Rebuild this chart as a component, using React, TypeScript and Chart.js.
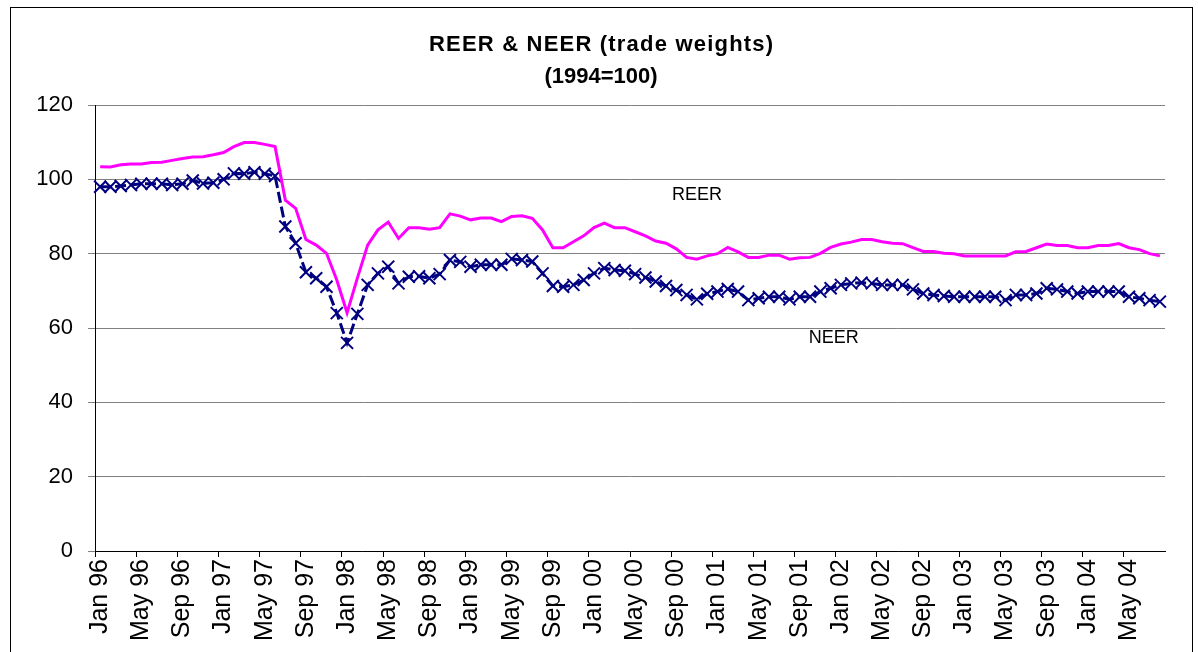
import React, { useEffect, useRef } from "react";
import { Chart, registerables } from "chart.js";

Chart.register(...registerables);

const MONTHS = ["Jan", "Feb", "Mar", "Apr", "May", "Jun", "Jul", "Aug", "Sep", "Oct", "Nov", "Dec"];
const YEARS = ["96", "97", "98", "99", "00", "01", "02", "03", "04"];
const MONTH_COUNT = 104; // Jan 96 .. Aug 04
const LABEL_EVERY = 4;

const REER = [
  103.4, 103.3, 103.9, 104.1, 104.1, 104.5, 104.6, 105.1, 105.6, 106.0, 106.1, 106.6,
  107.2, 108.8, 109.9, 109.9, 109.4, 108.8, 94.4, 92.2,
  83.8, 82.3, 80.1, 72.9, 64.1, 73.4, 82.3, 86.4, 88.5, 84.1,
  87.0, 87.0, 86.6, 87.0, 90.7, 90.1, 89.1, 89.6, 89.6, 88.6,
  90.0, 90.2, 89.5, 86.4, 81.6, 81.6, 83.2, 84.8, 87.0, 88.2,
  87.0, 87.0, 85.9, 84.8, 83.4, 82.8, 81.3, 79.0, 78.5, 79.4,
  80.0, 81.7, 80.5, 79.0, 79.0, 79.6, 79.6, 78.5, 78.9, 79.0,
  80.1, 81.7, 82.6, 83.1, 83.8, 83.8, 83.2, 82.8, 82.7, 81.6,
  80.6, 80.6, 80.1, 80.0, 79.4, 79.4, 79.4, 79.4, 79.4, 80.5,
  80.6, 81.6, 82.6, 82.2, 82.2, 81.6, 81.6, 82.2, 82.2, 82.7,
  81.6, 81.1, 80.0, 79.4,
];

const NEER = [
  98.0, 98.0, 98.2, 98.5, 98.8, 98.8, 98.8, 98.5, 98.8, 99.7, 98.9, 99.1,
  100.0, 101.6, 101.5, 101.9, 101.5, 100.9, 87.3, 82.8,
  75.0, 73.4, 71.1, 64.0, 56.0, 63.8, 71.6, 74.7, 76.5, 72.0,
  73.8, 73.9, 73.4, 74.5, 78.3, 77.8, 76.5, 77.0, 77.0, 77.0,
  78.6, 78.3, 77.9, 74.7, 71.3, 71.1, 71.6, 72.9, 74.7, 76.1,
  75.6, 75.4, 74.5, 73.6, 72.5, 71.3, 70.2, 68.9, 67.7, 69.2,
  69.8, 70.5, 69.8, 67.5, 68.0, 68.4, 68.4, 67.7, 68.4, 68.4,
  69.8, 70.7, 71.6, 72.0, 72.2, 72.0, 71.6, 71.6, 71.6, 70.4,
  69.3, 68.9, 68.6, 68.4, 68.4, 68.4, 68.4, 68.4, 67.5, 68.9,
  68.9, 69.3, 70.7, 70.4, 69.8, 69.3, 69.8, 69.8, 69.8, 69.8,
  68.4, 68.0, 67.5, 67.1,
];

const TITLE = ["REER & NEER (trade weights)", "(1994=100)"];
const Y_MIN = 0;
const Y_MAX = 120;
const Y_STEP = 20;

// series name labels placed in data space (category index, value)
const SERIES_LABELS = [
  { text: "REER", index: 58, value: 95.8 },
  { text: "NEER", index: 71.3, value: 57.3 },
];

const CATEGORIES: string[] = [];
for (let i = 0; i < MONTH_COUNT; i++) {
  CATEGORIES.push(MONTHS[i % 12] + " " + YEARS[Math.floor(i / 12)]);
}

const FONT = "'Liberation Sans', Arial, Helvetica, sans-serif";

const titlePlugin = {
  id: "excelTitle",
  afterDraw(chart: any) {
    const { ctx } = chart;
    ctx.save();
    ctx.fillStyle = "#000";
    ctx.textAlign = "center";
    ctx.textBaseline = "middle";
    ctx.font = `bold 22px ${FONT}`;
    const cx = 590;
    (ctx as any).letterSpacing = "1.2px";
    ctx.fillText(TITLE[0], cx + 0.6, 37);
    (ctx as any).letterSpacing = "0px";
    ctx.fillText(TITLE[1], cx, 69);
    ctx.restore();
  },
};

const seriesLabelPlugin = {
  id: "seriesLabels",
  afterDatasetsDraw(chart: any) {
    const { ctx, scales } = chart;
    ctx.save();
    ctx.font = `18px ${FONT}`;
    ctx.fillStyle = "#000";
    ctx.textAlign = "center";
    ctx.textBaseline = "middle";
    for (const l of SERIES_LABELS) {
      const x = scales.x.getPixelForValue(l.index);
      const y = scales.y.getPixelForValue(l.value);
      ctx.fillText(l.text, x, y);
    }
    ctx.restore();
  },
};

export default function App() {
  const ref = useRef<HTMLCanvasElement | null>(null);

  useEffect(() => {
    if (!ref.current) return;
    const chart = new Chart(ref.current, {
      type: "line",
      data: {
        labels: CATEGORIES,
        datasets: [
          {
            label: "REER",
            data: REER,
            borderColor: "#FF00FF",
            backgroundColor: "#FF00FF",
            borderWidth: 3,
            pointRadius: 0,
            tension: 0,
            fill: false,
          },
          {
            label: "NEER",
            data: NEER,
            borderColor: "#000080",
            backgroundColor: "#000080",
            borderWidth: 3,
            borderDash: [11, 4],
            pointStyle: "crossRot",
            pointRadius: 8.5,
            pointBorderWidth: 2,
            pointBorderColor: "#000080",
            tension: 0,
            fill: false,
          },
        ],
      },
      options: {
        responsive: false,
        animation: false,
        events: [],
        layout: { padding: { top: 97, right: 24, bottom: 0, left: 0 } },
        plugins: {
          legend: { display: false },
          tooltip: { enabled: false },
          title: { display: false },
        },
        scales: {
          x: {
            type: "category",
            offset: true,
            afterFit: (s: any) => {
              s.height = 110;
            },
            grid: {
              offset: true,
              drawOnChartArea: false,
              drawTicks: true,
              tickLength: 6,
              color: (c: any) => (c.index % LABEL_EVERY === 0 ? "#000" : "rgba(0,0,0,0)"),
            },
            border: { display: true, color: "#000", width: 1 },
            ticks: {
              autoSkip: false,
              maxRotation: 90,
              minRotation: 90,
              padding: 2,
              color: "#000",
              font: { family: FONT, size: 25 },
              callback: (_v: any, i: number) => (i % LABEL_EVERY === 0 ? CATEGORIES[i] : ""),
            },
          },
          y: {
            min: Y_MIN,
            max: Y_MAX,
            afterFit: (s: any) => {
              s.width = 84;
            },
            grid: {
              color: "#808080",
              lineWidth: 1,
              drawTicks: true,
              tickLength: 7,
            },
            border: { display: true, color: "#000", width: 1 },
            ticks: {
              stepSize: Y_STEP,
              padding: 15,
              color: "#000",
              font: { family: FONT, size: 22 },
            },
          },
        },
      },
      plugins: [seriesLabelPlugin, titlePlugin],
    });
    return () => chart.destroy();
  }, []);

  return (
    <div
      style={{
        position: "absolute",
        left: 10,
        top: 7,
        width: 1181,
        height: 660,
        border: "1px solid #000",
        background: "#fff",
        overflow: "hidden",
      }}
    >
      <canvas ref={ref} width={1181} height={653} style={{ display: "block" }} />
    </div>
  );
}
